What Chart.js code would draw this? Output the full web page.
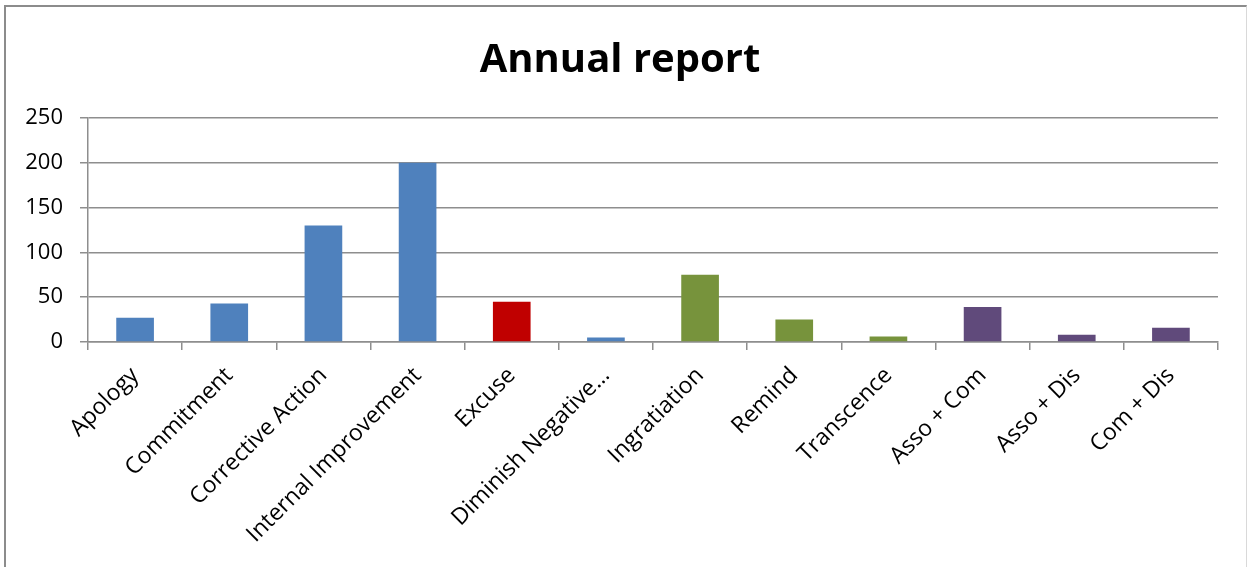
<!DOCTYPE html>
<html>
<head>
<meta charset="utf-8">
<script src="https://cdn.jsdelivr.net/npm/chart.js@4.4.1/dist/chart.umd.min.js"></script>
<style>
    html, body { margin: 0; padding: 0; background: #fff; overflow: hidden; }
    #frame {
        position: absolute; left: 4px; top: 5px; width: 1240px; height: 600px;
        border-left: 2px solid #8c8c8c; border-top: 2px solid #8c8c8c; border-right: 1px solid #d9d9d9;
    }
    #wrap { position: absolute; left: 0; top: 0; width: 1247px; height: 567px; }
</style>
</head>
<body>
<div id="frame"></div>
<div id="wrap"><canvas id="barChart"></canvas></div>
<script>
const categories = ['Apology', 'Commitment', 'Corrective Action', 'Internal Improvement', 'Excuse', 'Diminish Negative…',
    'Ingratiation', 'Remind', 'Transcence', 'Asso + Com', 'Asso + Dis', 'Com + Dis'];
const values = [27, 43, 130, 200, 45, 5, 75, 25, 6, 39, 8, 16];
const barColors = ['#4f81bd', '#4f81bd', '#4f81bd', '#4f81bd', '#c00000', '#4f81bd',
    '#77933c', '#77933c', '#77933c', '#604a7b', '#604a7b', '#604a7b'];
const yTicks = [0, 50, 100, 150, 200, 250];

const gridColor = '#8e8e8e';
const fontFamily = "'Open Sans', sans-serif";

new Chart(document.getElementById('barChart'), {
    type: 'bar',
    data: {
        labels: categories,
        datasets: [{ data: values, backgroundColor: barColors, borderWidth: 0, barPercentage: 0.4, categoryPercentage: 1 }],
    },
    options: {
        responsive: true,
        maintainAspectRatio: false,
        animation: false,
        layout: { padding: { left: 22, right: 29, top: 0, bottom: 0 } },
        plugins: {
            legend: { display: false },
            tooltip: { enabled: false },
            title: {
                display: true,
                text: 'Annual report',
                color: '#000',
                font: { family: fontFamily, size: 40, weight: 'bold' },
                padding: { top: 37, bottom: 33 },
            },
        },
        scales: {
            x: {
                afterFit: scale => { scale.height = 225; },
                ticks: { color: '#000', font: { family: fontFamily, size: 23 }, minRotation: 45, maxRotation: 45, autoSkip: false, padding: 12 },
                grid: { offset: true, drawOnChartArea: false, drawTicks: true, tickLength: 8, color: gridColor, lineWidth: 1.5 },
                border: { color: gridColor, width: 1.5 },
            },
            y: {
                min: 0,
                max: 250,
                afterFit: scale => { scale.width = 66; },
                afterBuildTicks: scale => { scale.ticks = yTicks.map(value => ({ value })); },
                ticks: { color: '#000', font: { family: fontFamily, size: 22 }, padding: 17 },
                grid: { color: gridColor, lineWidth: 1.5, tickLength: 8 },
                border: { color: gridColor, width: 1.5 },
            },
        },
    },
});
</script>
</body>
</html>
